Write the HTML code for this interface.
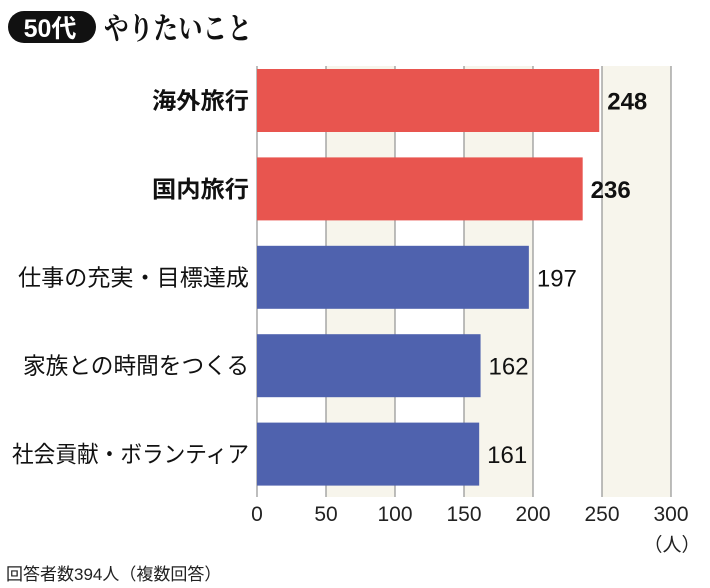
<!DOCTYPE html>
<html><head><meta charset="utf-8">
<style>
body{margin:0;background:#fff;width:710px;height:588px;overflow:hidden;font-family:"Liberation Sans","Noto Sans CJK JP",sans-serif;}
svg{display:block}
</style></head>
<body>
<svg id="chart" width="710" height="588">
  <g id="title">
    <rect x="8" y="11" width="88" height="32" rx="16" fill="#111"/>
    <text x="50" y="37" text-anchor="middle" font-size="25" font-weight="bold" fill="#fff" font-family="'Liberation Sans Narrow','Liberation Sans','Noto Sans CJK JP',sans-serif">50代</text>
    <text x="104" y="39" font-size="30" font-weight="bold" fill="#111" font-family="'Noto Serif CJK SC','Noto Sans CJK JP',serif" textLength="148" lengthAdjust="spacingAndGlyphs">やりたいこと</text>
  </g>
  <g id="bands"></g>
  <g id="grid"></g>
  <g id="bars"></g>
  <g id="ticks"></g>
  <text x="672" y="551" text-anchor="middle" font-size="19" fill="#222">（人）</text>
  <text x="6" y="580" font-size="17" fill="#222">回答者数394人（複数回答）</text>
</svg>
<script>
const categories=["海外旅行","国内旅行","仕事の充実・目標達成","家族との時間をつくる","社会貢献・ボランティア"];
const values=[248,236,197,162,161];
const highlight=[true,true,false,false,false];
const tickValues=[0,50,100,150,200,250,300];
const tickLabels=["0","50","100","150","200","250","300"];
const labelWidths=[97,97,231,226,237];
const NS="http://www.w3.org/2000/svg";
const x0=257,xScale=(671-257)/300;
const xPos=v=>x0+v*xScale;
const gridTop=66,gridBot=497,barTop0=69,pitch=88.4,barH=63;
function mk(tag,attrs,parent){const e=document.createElementNS(NS,tag);for(const k in attrs)e.setAttribute(k,attrs[k]);document.getElementById(parent).appendChild(e);return e;}
for(let i=1;i<tickValues.length;i+=2){
  const e=mk("rect",{x:xPos(tickValues[i]),y:gridTop,width:xPos(tickValues[i+1]??tickValues[i]+50)-xPos(tickValues[i]),height:gridBot-gridTop,fill:"#F7F5EC"},"bands");
  
  
}
tickValues.forEach((t,i)=>{
  const l=mk("line",{x1:xPos(t),x2:xPos(t),y1:gridTop,y2:gridBot,stroke:"#9a9a9a","stroke-width":1.3},"grid");
  
  
  const tx=mk("text",{x:xPos(t),y:521,"text-anchor":"middle","font-size":21,fill:"#222"},"ticks");
  tx.textContent=tickLabels[i];
  
  
});
categories.forEach((c,i)=>{
  const y=barTop0+i*pitch;
  const r=mk("rect",{x:x0,y:y,width:xPos(values[i])-x0,height:barH,fill:highlight[i]?"#E8554F":"#4F62AE"},"bars");
  
  
  const lab=mk("text",{x:249,y:y+barH/2+8,"text-anchor":"end","font-size":23,fill:"#111","font-weight":highlight[i]?"bold":"normal",textLength:labelWidths[i],lengthAdjust:"spacingAndGlyphs"},"bars");
  lab.textContent=c;
  
  
  const v=mk("text",{x:xPos(values[i])+8,y:y+barH/2+9,"font-size":24,fill:"#111","font-weight":highlight[i]?"bold":"normal"},"bars");
  v.textContent=values[i];
  
  
});
</script>
</body></html>
